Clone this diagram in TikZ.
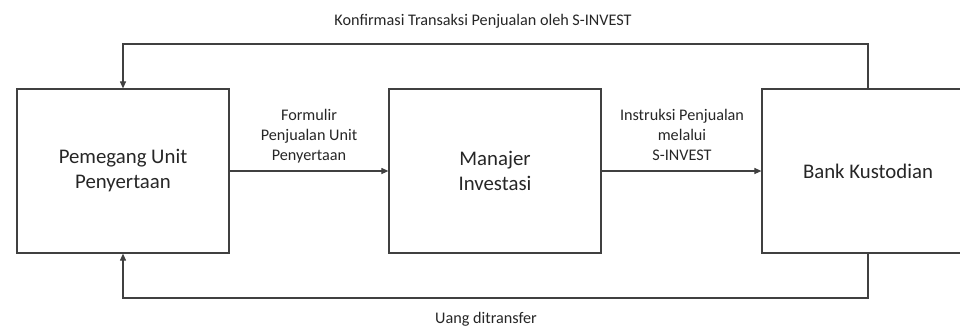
\documentclass[tikz,border=0pt]{standalone}
\usepackage{fontspec}
\setmainfont{Carlito}
\usetikzlibrary{arrows.meta}
\definecolor{linec}{HTML}{404040}
\tikzset{
  box/.style={draw=linec, line width=1.2pt, minimum width=212pt, minimum height=164pt, inner sep=0pt, align=center, font=\fontsize{20.8}{25}\selectfont, text=black!85},
  conn/.style={draw=linec, line width=1.1pt, -{Triangle[length=7pt,width=6pt]}},
  lbl/.style={align=center, font=\fontsize{16.2}{20}\selectfont, text=black!85, inner sep=0pt}
}
\begin{document}
\begin{tikzpicture}[x=1pt,y=-1pt]
\clip (0,0) rectangle (960,327);
\node[box] (L) at (123,171) {Pemegang Unit\\Penyertaan};
\node[box] (M) at (495,171) {Manajer\\Investasi};
\node[box] (R) at (868,171) {Bank Kustodian};
\coordinate (top) at (0,44);
\coordinate (bot) at (0,298);
\draw[conn] (L.east) -- (M.west);
\draw[conn] (M.east) -- (R.west);
\draw[conn] (R.north) -- (R.north |- top) -| (L.north);
\draw[conn] (R.south) -- (R.south |- bot) -| (L.south);
\node[lbl, anchor=base] (l1) at (309,160) {Formulir\\Penjualan Unit\\Penyertaan};
\node[lbl, anchor=base] (l2) at (682,160) {Instruksi Penjualan\\melalui\\S-INVEST};
\node[lbl] (l3) at (483,21) {Konfirmasi Transaksi Penjualan oleh S-INVEST};
\node[lbl] (l4) at (486,319) {Uang ditransfer};
\end{tikzpicture}
\end{document}
